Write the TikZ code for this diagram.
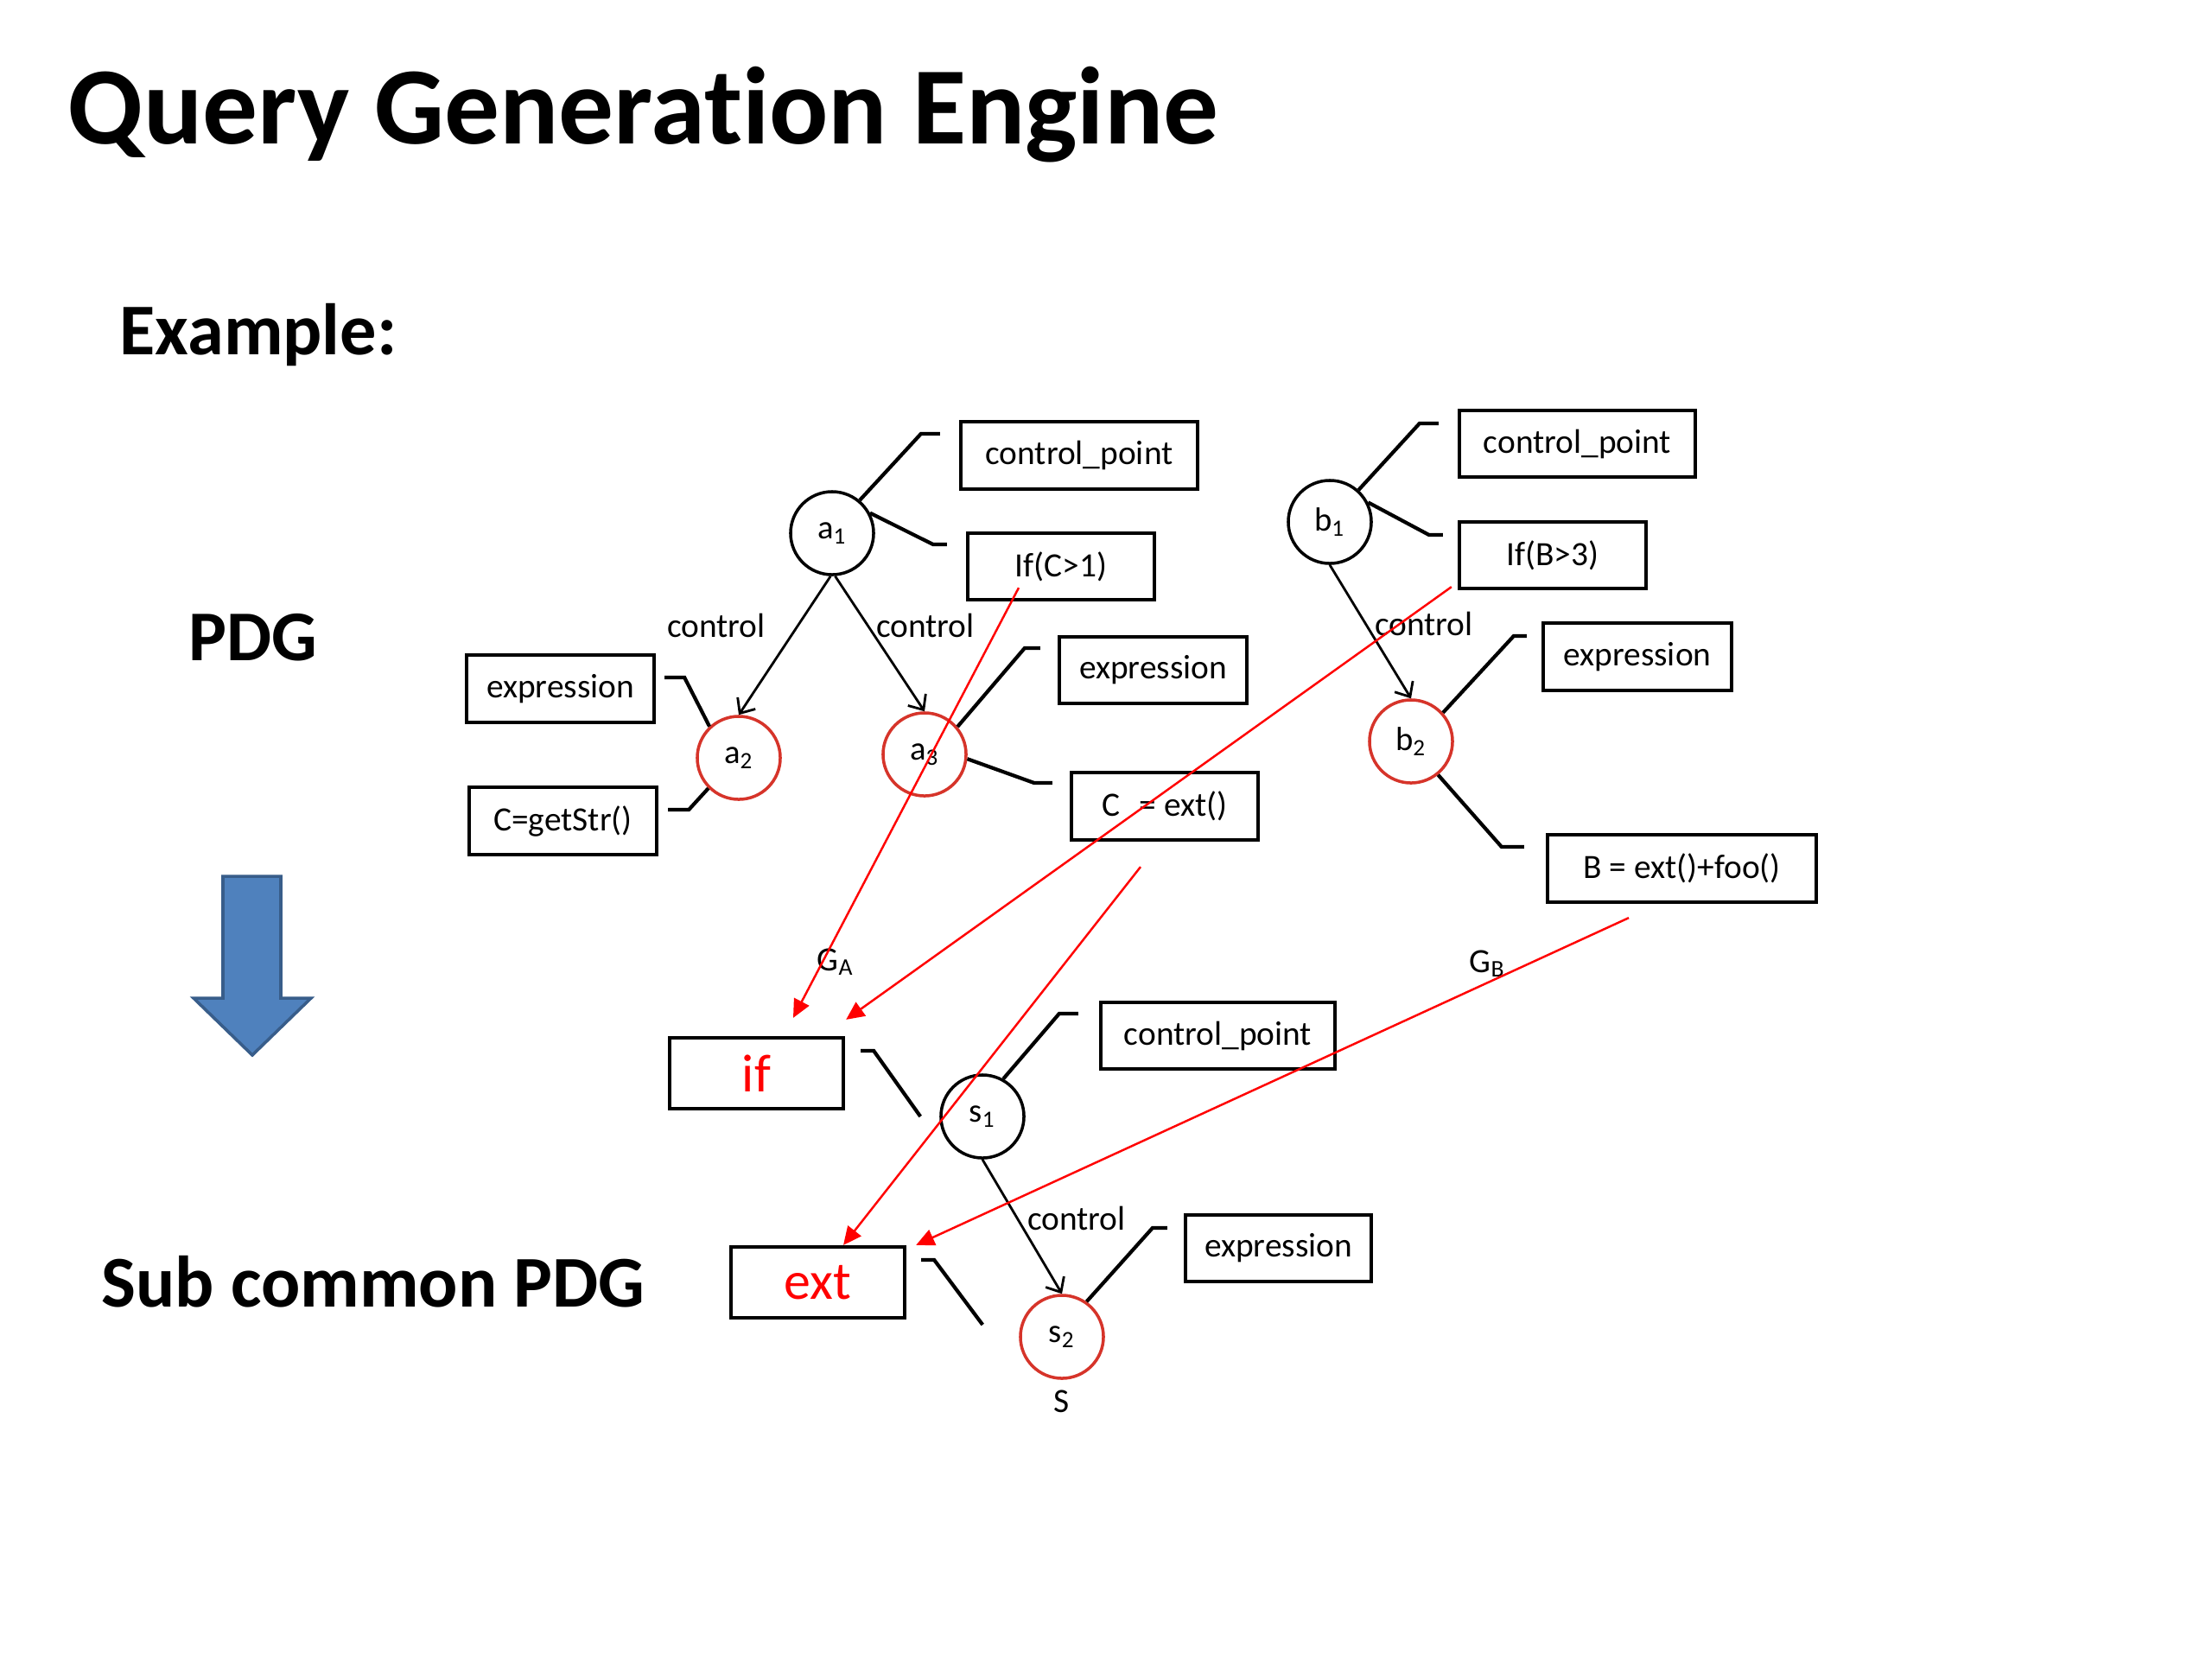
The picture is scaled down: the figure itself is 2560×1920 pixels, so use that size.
\documentclass[tikz,border=0pt]{standalone}
\usepackage{fontspec}
\setmainfont{Carlito}[Ligatures=NoCommon]
\usetikzlibrary{arrows.meta,calc}
\definecolor{circred}{RGB}{214,52,42}
\definecolor{arrred}{RGB}{255,0,0}
\definecolor{bluefill}{RGB}{79,129,189}
\definecolor{blueedge}{RGB}{56,93,138}
\begin{document}
\begin{tikzpicture}[x=0.01cm,y=-0.01cm,
  box/.style={draw,line width=1.2pt,minimum height=0.78cm,inner sep=0pt,font=\fontsize{11.2}{13}\selectfont},
  bigbox/.style={draw,line width=1.2pt,minimum height=0.82cm,minimum width=2.01cm,inner sep=0pt,text=arrred,font=\fontsize{17.6}{20}\selectfont},
  blk/.style={circle,draw,line width=1pt,minimum size=0.96cm,inner sep=0pt,font=\fontsize{11}{13}\selectfont},
  rd/.style={blk,draw=circred},
  br/.style={line width=1.2pt,line join=miter},
  ctrl/.style={line width=0.8pt,-{Straight Barb[length=4pt,width=7pt]}},
  redarr/.style={draw=arrred,line width=0.7pt,-{Triangle[length=6pt,width=5.5pt]}},
  lbl/.style={inner sep=0pt,font=\fontsize{11.2}{13}\selectfont},
  heading/.style={inner sep=0pt,font=\bfseries\fontsize{24}{28}\selectfont}
]
\fill[white] (0,0) rectangle (2560,1920);
\useasboundingbox (0,0) rectangle (2560,1920);

% titles
\node[inner sep=0pt,anchor=base west,font=\bfseries\fontsize{36.2}{40}\selectfont] (title) at (78,166) {Query Generation Engine};
\node[inner sep=0pt,anchor=base west,font=\bfseries\fontsize{24}{28}\selectfont] (example) at (138,410) {Example:};
\node[heading,anchor=base,font=\bfseries\fontsize{23.5}{28}\selectfont] (pdg) at (293,764) {PDG};
\node[heading,anchor=base] (sub) at (432,1512) {Sub common PDG};

% blue arrow
\draw[fill=bluefill,draw=blueedge,line width=1pt] (258,1014) -- (325,1014) -- (325,1155) -- (360,1155) -- (292,1221) -- (224,1155) -- (258,1155) -- cycle;

% boxes of G_A
\node[box,minimum width=2.74cm] (cpA) at (1249,527) {control\_point};
\node[box,minimum width=2.16cm,minimum height=0.77cm] (ifA) at (1228,655.5) {If(C>1)};
\node[box,minimum width=2.17cm] (exA2) at (648.5,797) {expression};
\node[box,minimum width=2.17cm] (getStr) at (651.5,950) {C=getStr()};
\node[box,minimum width=2.17cm,minimum height=0.77cm] (exA3) at (1334.5,775.5) {expression};
\node[box,minimum width=2.16cm] (cext) at (1348,933) {C\,\, = ext()};

% boxes of G_B
\node[box,minimum width=2.73cm,minimum height=0.77cm] (cpB) at (1825.5,513.5) {control\_point};
\node[box,minimum width=2.16cm,minimum height=0.77cm] (ifB) at (1797,642.5) {If(B>3)};
\node[box,minimum width=2.18cm] (exB) at (1895,760) {expression};
\node[box,minimum width=3.11cm] (bext) at (1946.5,1005) {B = ext()+foo()};

% boxes of S
\node[bigbox] (ifS) at (875.5,1242) {if};
\node[bigbox] (extS) at (946.5,1484) {ext};
\node[box,minimum width=2.71cm,minimum height=0.77cm] (cpS) at (1409.5,1198.5) {control\_point};
\node[box,minimum width=2.15cm,minimum height=0.77cm] (exS) at (1479.5,1444.5) {expression};

% circles
\node[blk] (a1) at (963,617) {a\textsubscript{1}};
\node[rd] (a2) at (855,877) {a\textsubscript{2}};
\node[rd] (a3) at (1070,873) {a\textsubscript{3}};
\node[blk] (b1) at (1539,604) {b\textsubscript{1}};
\node[rd] (b2) at (1633,858) {b\textsubscript{2}};
\node[blk] (s1) at (1137,1292) {s\textsubscript{1}};
\node[rd] (s2) at (1229,1547) {s\textsubscript{2}};

% brackets
\draw[br] (a1.50) -- ($(cpA.west)+(-44,-25)$) -- ($(cpA.west)+(-22,-25)$);
\draw[br] (a1.28) -- ($(ifA.west)+(-38,-25.5)$) -- ($(ifA.west)+(-22,-25.5)$);
\draw[br] ($(exA2.east)+(10,-13)$) -- ($(exA2.east)+(33,-13)$) -- (a2.133);
\draw[br] ($(getStr.east)+(11,-13)$) -- ($(getStr.east)+(35,-13)$) -- (a2.225);
\draw[br] (a3.40) -- ($(exA3.west)+(-38,-25.5)$) -- ($(exA3.west)+(-20,-25.5)$);
\draw[br] (a3.-6) -- ($(cext.west)+(-41,-27)$) -- ($(cext.west)+(-20,-27)$);
\draw[br] (b1.48) -- ($(cpB.west)+(-44,-23.5)$) -- ($(cpB.west)+(-22,-23.5)$);
\draw[br] (b1.27) -- ($(ifB.west)+(-33,-23.5)$) -- ($(ifB.west)+(-17,-23.5)$);
\draw[br] (b2.42) -- ($(exB.west)+(-32,-24)$) -- ($(exB.west)+(-17,-24)$);
\draw[br] (b2.-51) -- ($(bext.west)+(-51,-25)$) -- ($(bext.west)+(-25,-25)$);
\draw[br] ($(ifS.east)+(18,-26)$) -- ($(ifS.east)+(33,-26)$) -- ($(s1.west)+(-22,0)$);
\draw[br] (s1.61) -- ($(cpS.west)+(-46,-25.5)$) -- ($(cpS.west)+(-24,-25.5)$);
\draw[br] ($(extS.east)+(17,-26)$) -- ($(extS.east)+(32,-26)$) -- ($(s2.west)+(-42,-14)$);
\draw[br] (s2.55) -- ($(exS.west)+(-36,-23.5)$) -- ($(exS.west)+(-19,-23.5)$);

% control edges
\draw[ctrl] (a1.268) -- (a2.north);
\draw[ctrl] (a1.274) -- (a3.north);
\draw[ctrl] (b1.south) -- (b2.north);
\draw[ctrl] (s1.south) -- (s2.north);
\node[lbl,anchor=base] (l1) at (829,737) {control};
\node[lbl,anchor=base] (l2) at (1071,737) {control};
\node[lbl,anchor=base] (l3) at (1648,735) {control};
\node[lbl,anchor=base] (l4) at (1246,1423) {control};

% graph labels
\node[lbl,anchor=base west] (GA) at (945,1123) {G\textsubscript{A}};
\node[lbl,anchor=base west] (GB) at (1700,1125) {G\textsubscript{B}};
\node[lbl,anchor=base] (S) at (1229,1634) {S};

% red mapping arrows
\coordinate (rA1) at ($(ifA.south)+(-49,-16)$);
\coordinate (tA1) at ($(ifS.north)+(42.5,-21)$);
\coordinate (rB1) at ($(ifB.south west)+(-7,-4)$);
\coordinate (tB1) at ($(ifS.north east)+(1,-19)$);
\coordinate (rA2) at ($(cext.south)+(-28,29)$);
\coordinate (tA2) at ($(extS.north)+(29.5,0)$);
\coordinate (rB2) at ($(bext.south)+(-61.5,16)$);
\coordinate (tB2) at ($(extS.north east)+(11,0)$);
\draw[redarr] (rA1) -- (tA1);
\draw[redarr] (rB1) -- (tB1);
\draw[redarr] (rA2) -- (tA2);
\draw[redarr] (rB2) -- (tB2);
\end{tikzpicture}
\end{document}
